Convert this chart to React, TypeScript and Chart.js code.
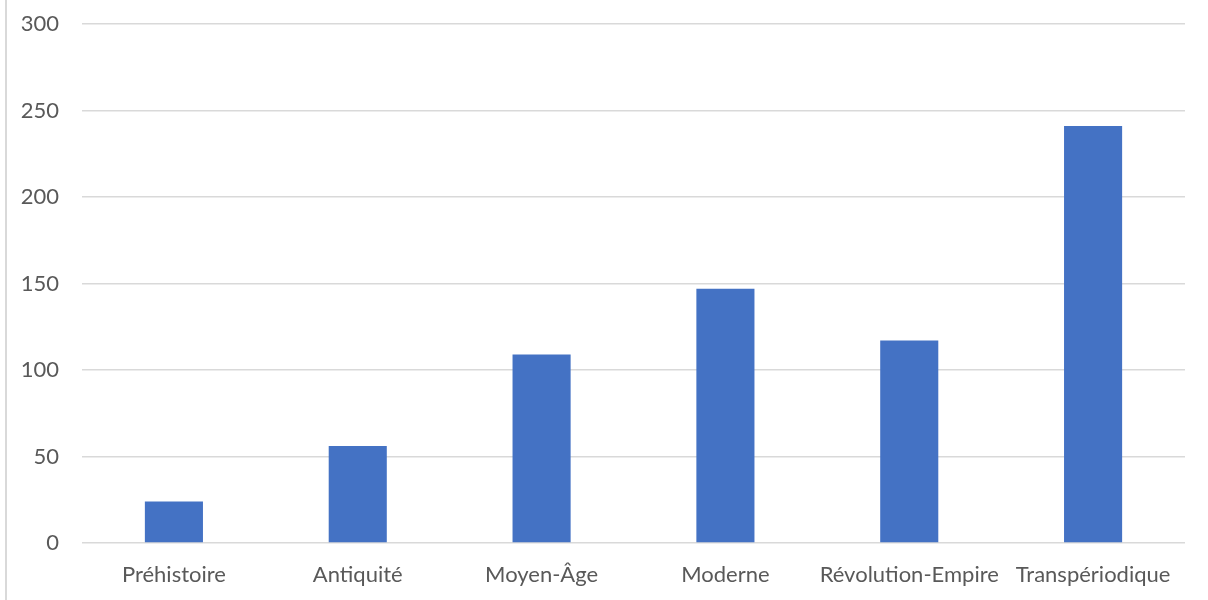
import React, { useEffect, useRef } from "react";
import { Chart, registerables } from "chart.js";

Chart.register(...registerables);

const categories = ["Préhistoire", "Antiquité", "Moyen-Âge", "Moderne", "Révolution-Empire", "Transpériodique"];
const values = [24, 56, 109, 147, 117, 241];
const yMin = 0;
const yMax = 300;
const yStep = 50;

const FONT = "Lato, 'Noto Sans', sans-serif";
const TEXT = "#595959";
const GRID = "#d9d9d9";
const BAR = "#4472C4";

export default function App() {
  const ref = useRef<HTMLCanvasElement | null>(null);

  useEffect(() => {
    document.body.style.margin = "0";
    if (!ref.current) return;
    const chart = new Chart(ref.current, {
      type: "bar",
      data: {
        labels: categories,
        datasets: [
          {
            data: values,
            backgroundColor: BAR,
            borderWidth: 0,
            barPercentage: 0.316,
            categoryPercentage: 1,
          },
        ],
      },
      options: {
        animation: false,
        responsive: false,
        maintainAspectRatio: false,
        layout: { padding: { top: 24, right: 23, bottom: 0, left: 0 } },
        plugins: {
          legend: { display: false },
          tooltip: { enabled: false },
        },
        scales: {
          x: {
            grid: { display: false, drawTicks: false },
            border: { display: false },
            ticks: {
              color: TEXT,
              font: { family: FONT, size: 22 },
              padding: 19,
              maxRotation: 0,
              autoSkip: false,
            },
            afterFit: (s: any) => {
              s.height = 57;
              s.paddingLeft = 0;
              s.paddingRight = 0;
            },
          },
          y: {
            min: yMin,
            max: yMax,
            grid: { color: GRID, lineWidth: 1.5, drawTicks: false },
            border: { display: false },
            ticks: {
              stepSize: yStep,
              color: TEXT,
              font: { family: FONT, size: 22 },
              padding: 23,
            },
            afterFit: (s: any) => {
              s.width = 82;
              s.paddingTop = 0;
              s.paddingBottom = 0;
            },
          },
        },
      },
    });
    return () => chart.destroy();
  }, []);

  return (
    <div style={{ position: "absolute", left: 0, top: 0, width: 1208, height: 600, background: "#fff" }}>
      <div style={{ position: "absolute", left: 5, top: 0, width: 2, height: 600, background: GRID }} />
      <canvas ref={ref} width={1208} height={600} style={{ position: "absolute", left: 0, top: 0 }} />
    </div>
  );
}
